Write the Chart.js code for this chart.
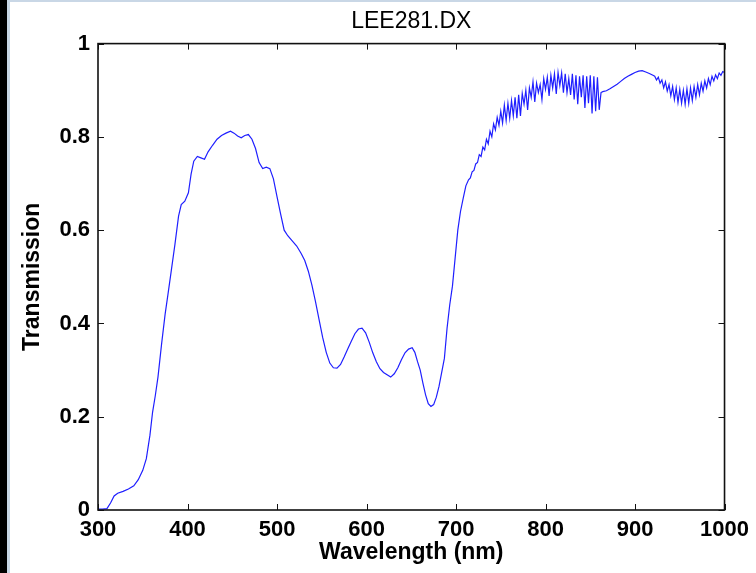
<!DOCTYPE html>
<html>
<head>
<meta charset="utf-8">
<title>LEE281.DX</title>
<script src="https://cdn.jsdelivr.net/npm/chart.js@4.4.1/dist/chart.umd.min.js"></script>
<style>
  html, body { margin: 0; padding: 0; background: #fff; }
  canvas { display: block; }
</style>
</head>
<body>
<canvas id="chart_lee281" width="756" height="573"></canvas>
<script>
// wavelength (nm) and transmission
var wavelengthNm = [
    300, 305, 310, 314, 318, 322, 328, 334, 340, 345, 350, 354, 358, 361, 364, 367, 371, 375, 378, 382,
    386, 390, 393, 397, 401, 404, 407, 411, 415, 419, 423, 428, 433, 438, 443, 448, 452, 456, 460, 464,
    468, 472, 476, 480, 484, 488, 492, 496, 500, 504, 508, 512, 517, 522, 527, 531, 535, 539, 543, 547,
    551, 555, 559, 563, 567, 571, 575, 579, 583, 587, 591, 595, 599, 603, 607, 611, 615, 619, 623, 627,
    631, 635, 639, 643, 647, 651, 654, 657, 660, 663, 666, 669, 672, 675, 678, 681, 684, 687, 690, 693,
    696, 699, 702, 705, 708, 711, 714,
    716, 718, 720, 722, 724, 726, 728, 730, 732, 734, 736, 738, 740, 742, 744, 746, 748, 750, 752, 754,
    756, 758, 760, 762, 764, 766, 768, 770, 772, 774, 776, 778, 780, 782, 784, 786, 788, 790, 792, 794,
    796, 798, 800, 802, 804, 806, 808, 810, 812, 814, 816, 818, 820, 822, 824, 826, 828, 830, 832, 834,
    836, 838, 840, 842, 844, 846, 848, 850, 852, 854, 856, 858, 860, 862, 864,
    868, 872, 876, 880, 884, 888, 892, 896, 900, 904, 908, 912, 916, 920,
    922, 924, 926, 928, 930, 932, 934, 936, 938, 940, 942, 944, 946, 948, 950, 952, 954, 956, 958, 960,
    962, 964, 966, 968, 970, 972, 974, 976, 978, 980, 982, 984, 986, 988, 990, 992, 994, 996, 998, 1000
];
var transmission = [
    0.002, 0.002, 0.003, 0.015, 0.030, 0.036, 0.040, 0.045, 0.052, 0.065, 0.085, 0.110, 0.160, 0.210, 0.245, 0.285, 0.355, 0.420, 0.460, 0.515,
    0.570, 0.630, 0.655, 0.662, 0.680, 0.720, 0.748, 0.758, 0.755, 0.752, 0.768, 0.782, 0.795, 0.803, 0.808, 0.812, 0.808, 0.802, 0.798, 0.803,
    0.805, 0.795, 0.775, 0.745, 0.732, 0.735, 0.732, 0.710, 0.672, 0.635, 0.600, 0.588, 0.577, 0.566, 0.550, 0.535, 0.512, 0.482, 0.447, 0.408,
    0.370, 0.338, 0.315, 0.305, 0.304, 0.312, 0.328, 0.345, 0.362, 0.378, 0.388, 0.390, 0.380, 0.360, 0.337, 0.318, 0.303, 0.295, 0.290, 0.285,
    0.292, 0.305, 0.322, 0.337, 0.345, 0.348, 0.338, 0.318, 0.300, 0.272, 0.247, 0.228, 0.222, 0.226, 0.242, 0.265, 0.295, 0.325, 0.390, 0.440,
    0.480, 0.540, 0.600, 0.640, 0.668, 0.695, 0.708,
    0.712, 0.725, 0.728, 0.742, 0.745, 0.762, 0.758, 0.778, 0.772, 0.795, 0.785, 0.812, 0.800, 0.828, 0.815, 0.842, 0.825, 0.855, 0.830, 0.868,
    0.835, 0.872, 0.840, 0.878, 0.845, 0.885, 0.840, 0.890, 0.845, 0.893, 0.870, 0.900, 0.858, 0.905, 0.885, 0.918, 0.875, 0.915, 0.895, 0.912,
    0.880, 0.925, 0.902, 0.928, 0.888, 0.932, 0.905, 0.935, 0.892, 0.938, 0.910, 0.937, 0.895, 0.935, 0.895, 0.925, 0.890, 0.935, 0.880, 0.932,
    0.870, 0.930, 0.885, 0.932, 0.862, 0.930, 0.872, 0.932, 0.850, 0.930, 0.855, 0.928, 0.858, 0.895, 0.897,
    0.899, 0.903, 0.908, 0.913, 0.919, 0.925, 0.930, 0.934, 0.938, 0.941, 0.942, 0.939, 0.936, 0.932,
    0.930, 0.922, 0.928, 0.915, 0.922, 0.905, 0.918, 0.898, 0.912, 0.888, 0.908, 0.880, 0.905, 0.874, 0.902, 0.872, 0.900, 0.870, 0.903, 0.872,
    0.905, 0.878, 0.908, 0.885, 0.912, 0.890, 0.915, 0.898, 0.920, 0.905, 0.925, 0.912, 0.930, 0.920, 0.933, 0.925, 0.937, 0.932, 0.940, 0.938
];
var xTickValues = [300, 400, 500, 600, 700, 800, 900, 1000];
var yTickLabels = ['0', '0.2', '0.4', '0.6', '0.8', '1'];

var points = wavelengthNm.map(function (w, i) { return { x: w, y: transmission[i] }; });

var tickFont = { family: "'Liberation Sans', Arial, sans-serif", size: 22, weight: 'bold' };
var titleFont = { family: "'Liberation Sans', Arial, sans-serif", size: 23, weight: 'bold' };

var chart_lee281 = new Chart(document.getElementById('chart_lee281'), {
    type: 'line',
    data: {
        datasets: [
            {
                label: 'LEE281.DX',
                data: points,
                borderColor: '#1f1fff',
                borderWidth: 1.2,
                pointRadius: 0,
                tension: 0,
                fill: false
            }
        ]
    },
    options: {
        animation: false,
        responsive: false,
        layout: { padding: { left: 0, right: 30, top: 0, bottom: 0 } },
        plugins: {
            legend: { display: false },
            tooltip: { enabled: false },
            title: {
                display: true,
                fullSize: false,
                text: 'LEE281.DX',
                color: '#000',
                font: { family: "'Liberation Sans', Arial, sans-serif", size: 23, weight: 'normal' },
                padding: { top: 8, bottom: 8 }
            }
        },
        scales: {
            x: {
                type: 'linear',
                min: 300,
                max: 1000,
                afterBuildTicks: function (scale) {
                    scale.ticks = xTickValues.map(function (v) { return { value: v }; });
                },
                ticks: {
                    color: '#000',
                    font: tickFont,
                    padding: 7,
                    maxRotation: 0,
                    autoSkip: false,
                    callback: function (value) { return String(value); }
                },
                grid: { display: false, drawTicks: false },
                border: { display: false },
                title: {
                    display: true,
                    text: 'Wavelength (nm)',
                    color: '#000',
                    font: titleFont,
                    padding: { top: 0, bottom: 7 }
                },
                afterFit: function (scale) { scale.height = 63; }
            },
            y: {
                type: 'linear',
                min: 0,
                max: 1,
                ticks: {
                    stepSize: 0.2,
                    color: '#000',
                    font: tickFont,
                    padding: 8,
                    callback: function (value, index) { return yTickLabels[index]; }
                },
                grid: { display: false, drawTicks: false },
                border: { display: false },
                title: {
                    display: true,
                    text: 'Transmission',
                    color: '#000',
                    font: titleFont,
                    padding: { top: 19, bottom: 0 }
                },
                afterFit: function (scale) { scale.width = 98; }
            }
        }
    },
    plugins: [{
        id: 'matlabFrame',
        beforeDraw: function (chart) {
            var ctx = chart.ctx;
            ctx.save();
            ctx.fillStyle = '#fff';
            ctx.fillRect(0, 0, chart.width, chart.height);
            ctx.fillStyle = '#c9d7e6';
            ctx.fillRect(0, 0, chart.width, 2);
            ctx.fillRect(7, 0, 3, chart.height);
            ctx.fillStyle = '#000';
            ctx.fillRect(0, 0, 7, chart.height);
            ctx.restore();
        },
        afterDraw: function (chart) {
            var ctx = chart.ctx;
            var a = chart.chartArea;
            var xs = chart.scales.x, ys = chart.scales.y;
            var len = 6;
            ctx.save();
            ctx.strokeStyle = '#111';
            ctx.lineWidth = 1;
            ctx.beginPath();
            xs.ticks.forEach(function (t) {
                var px = Math.round(xs.getPixelForValue(t.value)) + 0.5;
                ctx.moveTo(px, a.bottom); ctx.lineTo(px, a.bottom - len);
                ctx.moveTo(px, a.top); ctx.lineTo(px, a.top + len);
            });
            ys.ticks.forEach(function (t) {
                var py = Math.round(ys.getPixelForValue(t.value)) + 0.5;
                ctx.moveTo(a.left, py); ctx.lineTo(a.left + len, py);
                ctx.moveTo(a.right, py); ctx.lineTo(a.right - len, py);
            });
            ctx.stroke();
            ctx.lineWidth = 1.6;
            ctx.strokeStyle = '#111';
            ctx.strokeRect(a.left, a.top, a.right - a.left, a.bottom - a.top);
            ctx.restore();
        }
    }]
});
</script>
</body>
</html>
